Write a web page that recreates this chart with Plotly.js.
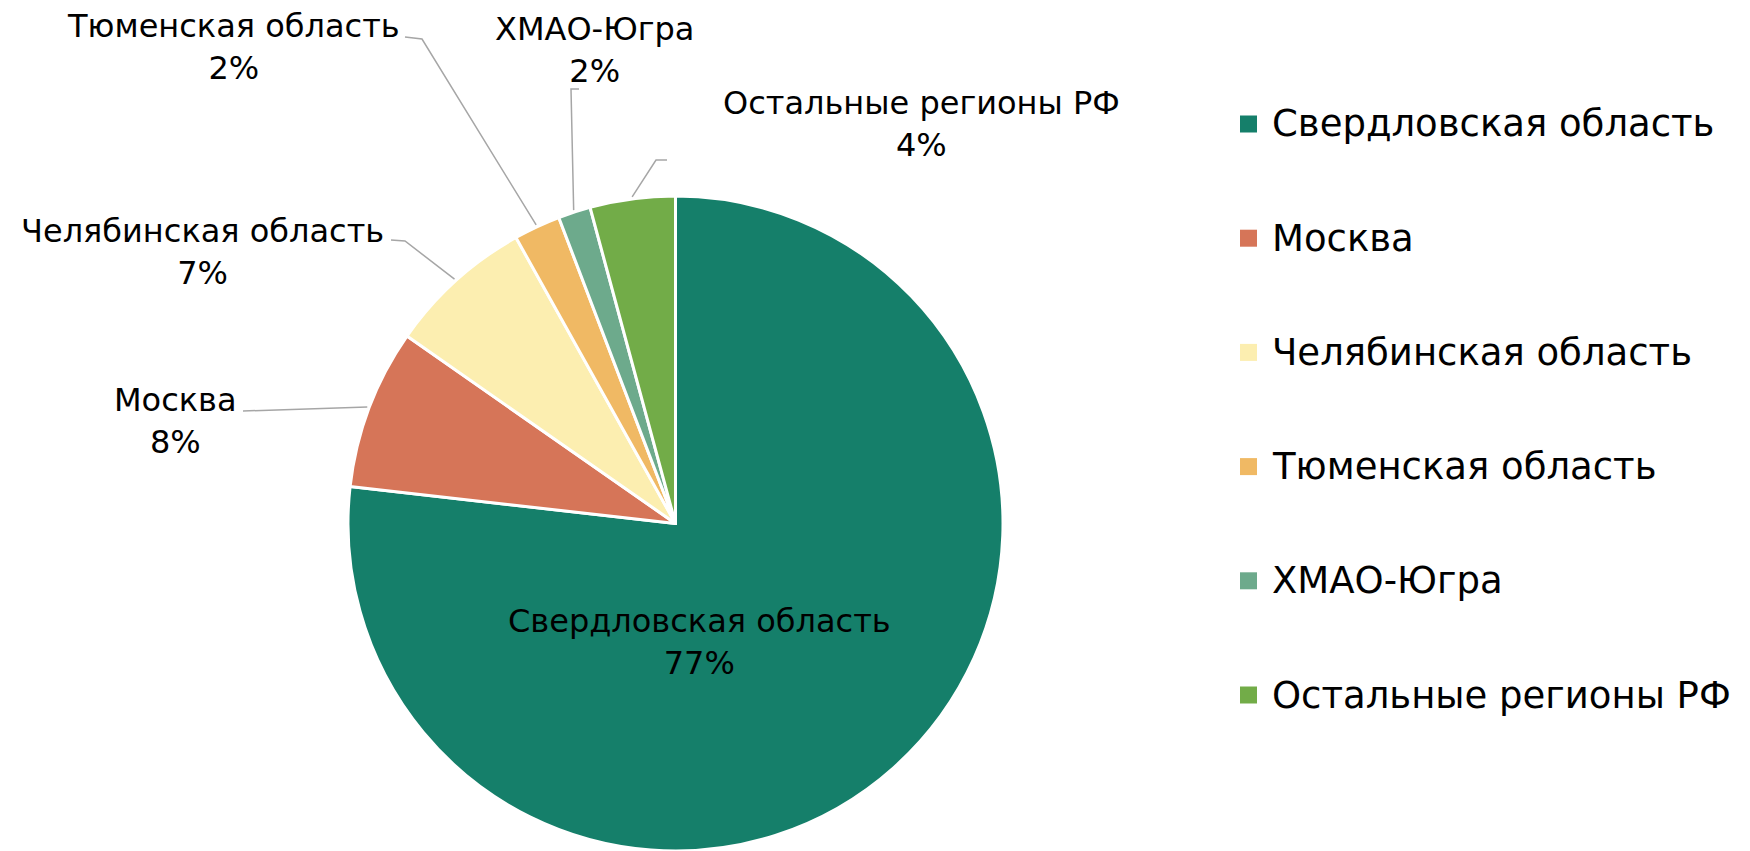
<!DOCTYPE html>
<html>
<head>
<meta charset="utf-8">
<script src="https://cdn.plot.ly/plotly-3.0.1.min.js"></script>
<style>
  html, body { margin: 0; padding: 0; background: #ffffff; }
  #chart { width: 1750px; height: 851px; }
</style>
</head>
<body>
<div id="chart"></div>
<script>
// ---- data ----
const categories = ["Свердловская область", "Москва", "Челябинская область", "Тюменская область", "ХМАО-Югра", "Остальные регионы РФ"];
const shares = [76.8, 7.9, 7.2, 2.3, 1.6, 4.2];
const colors = ["#157F6A", "#D67558", "#FCEEB0", "#F0B964", "#6DAA8C", "#72AC48"];

// ---- layout constants (pixels in 1750x851 canvas) ----
const W = 1750, H = 851;
const cx = 675.5, cy = 523.5, R = 327.5;
// label centres [x, y] (two-line label block centre)
const labelPos = [[699, 642], [175, 421], [202, 252], [234, 47], [594, 50], [922, 124]];
// leader line start/elbow points (null = no leader)
const leaderPts = [
  null,
  [[243, 411]],
  [[391, 240], [405, 241]],
  [[405, 37], [422, 39]],
  [[579, 89], [571, 89]],
  [[667, 160], [656, 160]]
];
const px = x => x / W;
const py = y => 1 - y / H;

const total = shares.reduce((a, b) => a + b, 0);
const pct = shares.map(v => Math.round(v / total * 100));

const annotations = [];
const shapes = [];

// slice labels + leaders
let cum = 0;
shares.forEach((v, i) => {
  const mid = (cum + v / 2) / total * 2 * Math.PI;
  cum += v;
  annotations.push({
    xref: 'paper', yref: 'paper',
    x: px(labelPos[i][0]), y: py(labelPos[i][1]),
    xanchor: 'center', yanchor: 'middle',
    text: categories[i] + '<br>' + pct[i] + '%',
    showarrow: false,
    font: {family: 'DejaVu Sans', size: 32, color: '#000000'}
  });
  if (leaderPts[i]) {
    const ex = cx + (R + 2) * Math.sin(mid);
    const ey = cy - (R + 2) * Math.cos(mid);
    const pts = leaderPts[i].concat([[ex, ey]]);
    const path = pts.map((p, k) => (k === 0 ? 'M' : 'L') + px(p[0]) + ',' + py(p[1])).join(' ');
    shapes.push({
      type: 'path', xref: 'paper', yref: 'paper', path: path,
      line: {color: '#A6A6A6', width: 1.5}
    });
  }
});

// manual legend
const legTop = 124, legStep = 114.2, sq = 17, legX = 1240;
categories.forEach((c, i) => {
  const yc = legTop + i * legStep;
  shapes.push({
    type: 'rect', xref: 'paper', yref: 'paper',
    x0: px(legX), x1: px(legX + sq), y0: py(yc - sq / 2), y1: py(yc + sq / 2),
    fillcolor: colors[i], line: {width: 0}
  });
  annotations.push({
    xref: 'paper', yref: 'paper',
    x: px(legX + sq + 13), y: py(yc),
    xanchor: 'left', yanchor: 'middle',
    text: c, showarrow: false,
    font: {family: 'DejaVu Sans', size: 37, color: '#000000'}
  });
});

const trace = {
  type: 'pie',
  labels: categories,
  values: shares,
  sort: false,
  direction: 'clockwise',
  rotation: 0,
  textinfo: 'none',
  marker: {colors: colors, line: {color: '#ffffff', width: 3}},
  domain: {x: [px(cx - R), px(cx + R)], y: [py(cy + R), py(cy - R)]},
  showlegend: false,
  hoverinfo: 'label+percent'
};

const layout = {
  width: W, height: H,
  margin: {l: 0, r: 0, t: 0, b: 0},
  paper_bgcolor: '#ffffff',
  plot_bgcolor: '#ffffff',
  showlegend: false,
  annotations: annotations,
  shapes: shapes,
  font: {family: 'DejaVu Sans'}
};

Plotly.newPlot('chart', [trace], layout, {displayModeBar: false, staticPlot: true});
</script>
</body>
</html>
